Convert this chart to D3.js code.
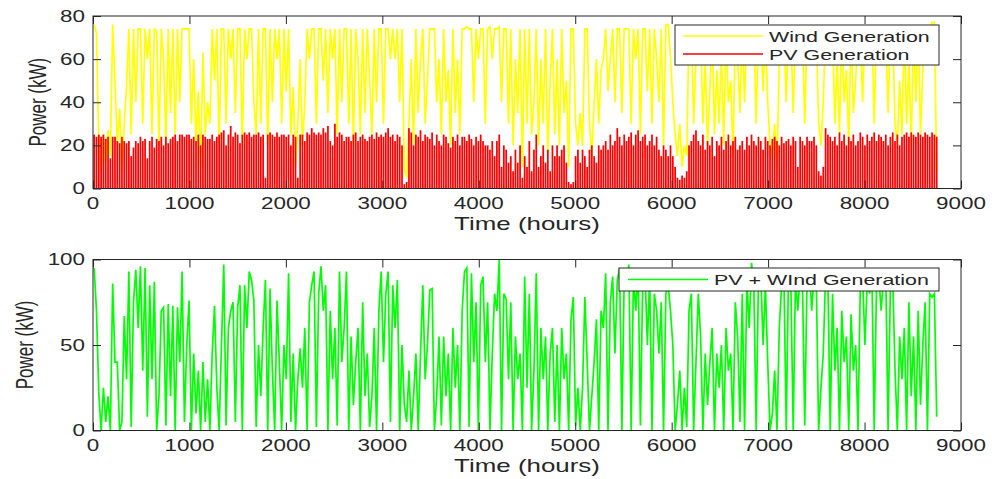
<!DOCTYPE html>
<html>
<head>
<meta charset="utf-8">
<script src="https://cdn.jsdelivr.net/npm/d3@7"></script>
<style>
body { margin: 0; background: #fff; }
text { font-family: "Liberation Sans", Arial, sans-serif; fill: #262626; }
</style>
</head>
<body>
<svg id="chart" width="999" height="479"></svg>
<script>
// one value per day (24 h step)
var stepHours = 24;

var windKW = [
  76,72,20,8,25,12,27,15,76,50,   20,37,8,30,47,74,25,74,40,74,
  74,30,74,60,74,25,74,73,20,74,  60,20,74,35,74,25,74,40,74,74,
  74,74,30,60,20,45,10,63,25,40,  30,74,50,74,20,74,74,30,74,60,
  74,35,74,74,20,74,60,74,74,40,  25,74,30,74,74,20,74,40,74,60,
  74,30,74,45,74,25,47,10,30,60,  20,40,74,60,74,74,30,74,74,50,
  74,35,74,60,74,25,74,40,74,74,  30,74,20,74,60,25,74,35,74,50,
  25,74,40,74,74,30,74,74,60,74,  60,74,40,74,10,5,30,60,20,74,
  35,60,74,30,50,74,74,74,40,60,  25,74,40,55,20,74,35,60,25,74,
  74,75,74,74,40,74,60,74,74,30,  74,75,60,74,74,75,40,74,74,30,
  74,20,60,35,74,10,74,30,74,25,  40,74,20,60,30,74,15,50,74,25,
  60,20,74,35,50,10,74,74,30,20,  35,20,74,74,30,15,40,60,30,55,
  60,74,45,60,74,40,74,74,35,74,  74,74,30,74,60,74,25,74,74,45,
  74,30,74,60,40,74,20,76,76,61,  40,25,15,30,10,20,15,74,74,30,
  60,74,74,30,60,20,45,74,25,55,  30,65,20,74,40,50,15,74,60,35,
  74,40,74,60,74,74,30,74,74,45,  74,40,20,15,30,10,60,74,74,40,
  74,74,35,74,60,74,74,30,74,74,  60,74,74,30,20,40,74,74,60,74,
  30,60,25,74,40,55,20,74,35,50,  74,74,40,74,74,60,74,30,74,74,
  60,74,74,35,74,74,30,20,50,25,  74,30,60,20,74,40,74,25,55,74,
  60,74,77,77,8
];

// daily PV peak
var pvKW = [
  25,24,25,24,25,23,24,14,24,24,  22,21,24,22,21,22,15,19,22,21,
  24,22,23,14,22,24,19,23,22,24,  20,24,21,23,24,25,22,25,25,24,
  25,25,23,24,22,25,20,25,24,23,  23,25,22,24,25,26,27,20,25,29,
  24,26,25,21,25,26,25,26,24,25,  25,26,24,25,5,25,26,25,24,26,
  24,25,25,24,25,20,25,24,5,25,   25,22,26,25,28,26,25,26,25,28,
  26,29,22,20,30,24,26,25,22,24,  24,22,25,26,22,24,25,23,22,24,
  25,23,26,24,25,24,26,28,24,25,  22,25,24,20,2,3,28,26,20,25,
  24,27,22,25,24,23,26,20,25,22,  20,25,24,21,19,24,22,25,20,24,
  24,22,25,23,20,24,22,25,22,20,  20,18,22,15,22,25,10,20,18,12,
  15,8,18,12,20,5,15,10,22,8,     18,25,10,15,20,12,18,8,20,15,
  20,15,18,20,12,3,2,3,15,18,     12,18,15,10,18,20,15,12,20,18,
  20,22,18,25,20,22,28,24,20,25,  22,24,26,20,25,27,22,24,25,20,
  22,25,20,24,18,15,20,18,15,20,  15,10,5,4,6,5,8,20,22,25,
  27,22,20,25,18,22,20,24,15,22,  20,24,18,22,25,20,22,24,18,20,
  22,18,24,20,25,22,20,24,22,18,  24,22,20,23,24,22,20,24,21,22,
  23,20,24,22,10,24,22,20,24,22,  22,24,20,8,6,10,28,25,24,22,
  24,20,26,22,25,20,24,22,25,20,  22,26,24,20,25,22,24,26,22,25,
  24,22,25,20,24,26,22,25,20,24,  25,26,24,26,25,24,26,25,24,26,
  25,24,26,25,24
];

var totalKW = [
  95,70,22,0,25,5,20,0,86,40,     40,0,5,67,30,93,2,75,94,60,
  96,35,95,8,85,30,87,0,20,70,    72,3,74,20,73,0,72,40,93,5,
  50,76,0,45,10,35,0,40,5,30,     0,45,73,25,0,50,97,3,60,70,
  75,5,72,85,0,85,60,93,88,76,    2,50,20,60,88,0,83,35,0,76,
  40,0,50,30,92,5,45,0,30,48,     25,60,0,75,85,93,2,80,96,70,
  85,0,70,30,60,3,93,40,60,93,    0,55,15,40,60,0,75,20,45,2,
  20,60,0,70,93,40,80,93,5,85,    60,88,0,50,15,5,35,0,20,45,
  0,45,85,30,50,82,83,0,20,55,    3,55,20,45,0,60,25,50,0,70,
  93,95,2,92,40,75,0,85,90,40,    75,0,45,80,70,100,0,80,77,30,
  75,0,55,30,45,0,90,25,80,0,     35,92,0,60,30,55,0,45,60,5,
  50,0,60,30,45,0,65,78,3,25,     0,25,78,40,0,20,40,65,0,70,
  60,92,0,75,90,45,88,95,0,90,    85,97,0,90,70,95,3,88,93,50,
  90,0,80,70,45,75,0,80,85,70,    50,0,15,35,0,25,2,70,80,0,
  40,80,55,0,45,15,40,60,0,45,    25,50,0,60,35,45,0,75,55,5,
  80,0,88,60,98,85,0,90,92,50,    85,40,0,10,35,0,60,85,90,0,
  95,85,0,90,70,92,88,3,90,95,    70,90,85,0,25,45,92,88,0,80,
  35,60,0,70,40,55,0,68,35,50,    0,85,90,50,88,80,92,0,85,90,
  70,88,92,0,85,90,35,0,55,30,    60,0,75,20,55,0,70,15,50,75,
  0,80,78,80,8
];

var xTicks = [0, 1000, 2000, 3000, 4000, 5000, 6000, 7000, 8000, 9000];
var yTicksTop = [0, 20, 40, 60, 80];
var yTicksBot = [0, 50, 100];

var svg = d3.select('#chart');
var sx = 1.4;   // the original image is stretched sideways

var left = 93, right = 961;
var panels = [
  { top: 16, bottom: 188.5, ymax: 80, ticks: yTicksTop, ylabX: 40 },
  { top: 259.5, bottom: 430.5, ymax: 100, ticks: yTicksBot, ylabX: 27 }
];

var x = d3.scaleLinear().domain([0, 9000]).range([left, right]);
panels.forEach(function(p) {
  p.y = d3.scaleLinear().domain([0, p.ymax]).range([p.bottom, p.top]);
});

function label(g, tx, ty, str, size, anchor, rotate) {
  return g.append('text')
    .attr('transform', 'translate(' + tx + ',' + ty + ') scale(' + sx + ',1)' + (rotate ? ' rotate(-90)' : ''))
    .attr('text-anchor', anchor)
    .style('font-size', size + 'px')
    .text(str);
}

var defs = svg.append('defs');
panels.forEach(function(p, i) {
  defs.append('clipPath').attr('id', 'clip' + i)
    .append('rect').attr('x', left).attr('y', p.top)
    .attr('width', right - left).attr('height', p.bottom - p.top);
});

// top: wind + PV
var p0 = panels[0];
var g0 = svg.append('g').attr('clip-path', 'url(#clip0)');

var windLine = d3.line()
  .x(function(d, i) { return x(i * stepHours + 12); })
  .y(function(d) { return p0.y(d); });

g0.append('path').datum(windKW)
  .attr('d', windLine)
  .attr('fill', 'none')
  .attr('stroke', '#ffff00')
  .attr('stroke-width', 1.7);

g0.selectAll('rect.pv').data(pvKW).enter().append('rect')
  .attr('class', 'pv')
  .attr('x', function(d, i) { return x(i * stepHours + 3); })
  .attr('width', x(18) - x(0))
  .attr('y', function(d) { return p0.y(d); })
  .attr('height', function(d) { return p0.y(0) - p0.y(d); })
  .attr('fill', '#ff0000');

// bottom: sum
var p1 = panels[1];
var g1 = svg.append('g').attr('clip-path', 'url(#clip1)');
var totLine = d3.line()
  .x(function(d, i) { return x(i * stepHours + 12); })
  .y(function(d) { return p1.y(d); });

g1.append('path').datum(totalKW)
  .attr('d', totLine)
  .attr('fill', 'none')
  .attr('stroke', '#00ff00')
  .attr('stroke-width', 1.7);

// axes
panels.forEach(function(p) {
  var ax = svg.append('g');
  var tk = 8;
  ax.append('g').attr('transform', 'translate(0,' + p.bottom + ')')
    .call(d3.axisBottom(x).tickValues(xTicks).tickSizeInner(-tk).tickSizeOuter(0).tickFormat(''));
  ax.append('g').attr('transform', 'translate(0,' + p.top + ')')
    .call(d3.axisTop(x).tickValues(xTicks).tickSizeInner(-tk).tickSizeOuter(0).tickFormat(''));
  ax.append('g').attr('transform', 'translate(' + left + ',0)')
    .call(d3.axisLeft(p.y).tickValues(p.ticks).tickSizeInner(-tk).tickSizeOuter(0).tickFormat(''));
  ax.append('g').attr('transform', 'translate(' + right + ',0)')
    .call(d3.axisRight(p.y).tickValues(p.ticks).tickSizeInner(-tk).tickSizeOuter(0).tickFormat(''));
  ax.selectAll('.domain').remove();
  ax.selectAll('.tick line').attr('stroke', '#262626');

  ax.append('rect')
    .attr('x', left).attr('y', p.top)
    .attr('width', right - left).attr('height', p.bottom - p.top)
    .attr('fill', 'none').attr('stroke', '#262626').attr('stroke-width', 1);

  xTicks.forEach(function(t) {
    label(ax, x(t), p.bottom + 20.5, String(t), 16, 'middle');
  });
  p.ticks.forEach(function(t) {
    label(ax, left - 8, p.y(t) + 5.5, String(t), 16, 'end');
  });

  label(ax, 527, p.bottom + 41.5, 'Time (hours)', 18.5, 'middle');
  label(ax, p.ylabX + 6, (p.top + p.bottom) / 2, 'Power (kW)', 17, 'middle', true);
});

// legends
function legend(box, items) {
  var lg = svg.append('g');
  lg.append('rect')
    .attr('x', box.x).attr('y', box.y).attr('width', box.w).attr('height', box.h)
    .attr('fill', '#fff').attr('stroke', '#262626').attr('stroke-width', 1);
  items.forEach(function(it, i) {
    var cy = box.y + box.first + i * box.gap;
    lg.append('line')
      .attr('x1', box.lx1).attr('x2', box.lx2).attr('y1', cy).attr('y2', cy)
      .attr('stroke', it.color).attr('stroke-width', 1.3);
    label(lg, box.tx, cy + 5.5, it.name, 15.3, 'start');
  });
}

legend({ x: 675, y: 25, w: 264, h: 40, first: 11, gap: 18, lx1: 683, lx2: 763, tx: 769 },
  [{ name: 'Wind Generation', color: '#ffff00' }, { name: 'PV Generation', color: '#ff0000' }]);
legend({ x: 619, y: 268, w: 320, h: 23, first: 11.5, gap: 0, lx1: 628, lx2: 708, tx: 714 },
  [{ name: 'PV + WInd Generation', color: '#00ff00' }]);
</script>
</body>
</html>
